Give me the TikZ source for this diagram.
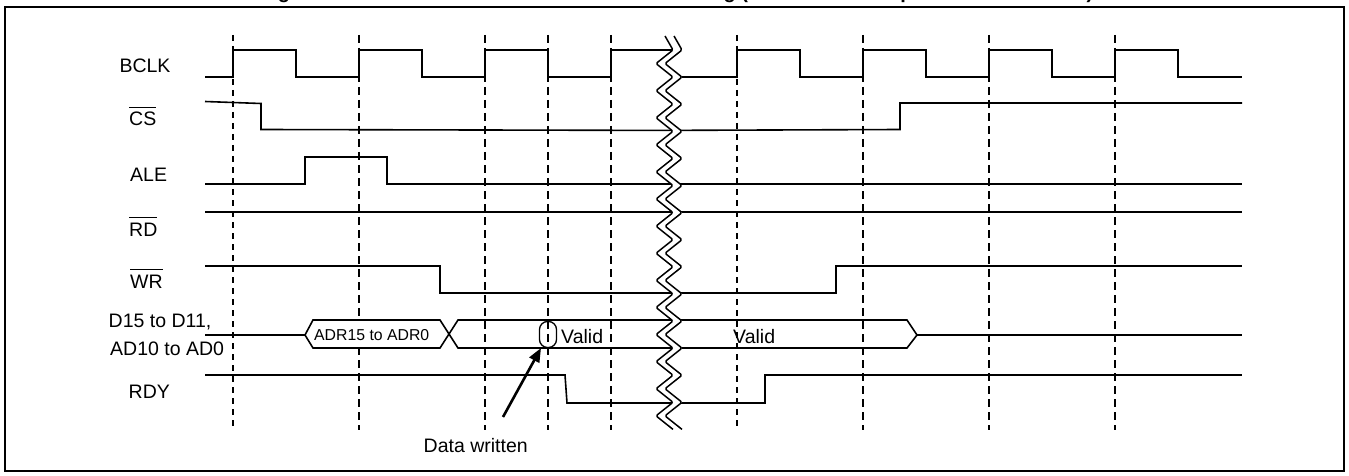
\documentclass[tikz,border=0pt]{standalone}
\usepackage{fontspec}
\setmainfont{Liberation Sans}
\usetikzlibrary{arrows.meta}
\newcommand{\ovl}[1]{\setbox0\hbox{#1}\rlap{\rule[\dimexpr\ht0+4.4pt\relax]{\wd0}{1.2pt}}#1}
\tikzset{
  lbl/.style={font=\fontsize{19.5}{23}\selectfont, inner sep=0pt, anchor=base west},
  smalllbl/.style={font=\fontsize{15.8}{19}\selectfont, inner sep=0pt, anchor=base west},
  sig/.style={line width=1.6pt, line join=miter},
  thingrid/.style={line width=1.1pt, dash pattern=on 6pt off 5pt},
  thickgrid/.style={line width=2.3pt, dash pattern=on 8pt off 5pt},
  zig/.style={line width=1.5pt, line join=round, rounded corners=1.5pt},
}
\begin{document}
\begin{tikzpicture}[x=1pt,y=-1pt]
\useasboundingbox (0,0) rectangle (1349,476);
% title (cut off at the top of the picture)
\node[font=\bfseries\fontsize{20}{24}\selectfont, inner sep=0pt, anchor=base west] (title) at (260,-1)
  {Figure 18. Address/Data Bus Write Access Timing (Clock Mode 1 Input at Word Access)};
% frame
\draw[line width=2pt] (5,7) rectangle (1343.5,470.5);

% grid lines
\foreach \gx in {233,737} \draw[thingrid] (\gx,35) -- (\gx,430);
\foreach \gx in {359,485,548,611,863,989,1115} \draw[thickgrid] (\gx,35) -- (\gx,430);

% labels
\node[lbl] (lbclk) at (119.3,72.3) {BCLK};
\node[lbl] (lcs) at (129,126) {\ovl{CS}};
\node[lbl] (lale) at (130,181) {ALE};
\node[lbl] (lrd) at (129,236) {\ovl{RD}};
\node[lbl] (lwr) at (130,288) {\ovl{WR}};
\node[lbl] (ld1) at (108.5,327) {D15 to D11,};
\node[lbl] (ld2) at (110,355) {AD10 to AD0};
\node[lbl] (lrdy) at (128.5,398) {RDY};

% left part of the signals (left of the break)
\begin{scope}
\clip (0,0) -- (665,0) -- (665,36)
  \foreach \k in {0,...,13} { -- (673,{50+27.1*\k}) -- (656,{63.55+27.1*\k}) }
  -- (673,429.4) -- (673,476) -- (0,476) -- cycle;
\draw[sig] (205,77) -- (233,77) -- (233,50) -- (296,50) -- (296,77) -- (359,77) -- (359,50)
  -- (422,50) -- (422,77) -- (485,77) -- (485,50) -- (548,50) -- (548,77) -- (611,77)
  -- (611,50) -- (700,50);
\draw[sig] (205,101.5) -- (261,103.5) -- (261,129.5) -- (700,130.5);
\draw[sig] (205,184) -- (305,184) -- (305,157) -- (387,157) -- (387,184) -- (700,184);
\draw[sig] (205,212) -- (700,212);
\draw[sig] (205,266) -- (440,266) -- (440,293) -- (700,293);
\draw[sig] (205,335) -- (305,335);
\filldraw[sig, fill=white] (305,335) -- (313,320) -- (440,320) -- (449,334) -- (440,348) -- (313,348) -- cycle;
\draw[sig] (449,334) -- (458,320) -- (700,320);
\draw[sig] (449,334) -- (458,348) -- (700,348);
\draw[sig] (205,375) -- (565,375) -- (567,403) -- (700,403);
\end{scope}

% right part of the signals (right of the break)
\begin{scope}
\clip (1349,0) -- (674,0) -- (674,36)
  \foreach \k in {0,...,13} { -- (682,{50+27.1*\k}) -- (665,{63.55+27.1*\k}) }
  -- (682,429.4) -- (682,476) -- (1349,476) -- cycle;
\draw[sig] (640,77) -- (737,77) -- (737,50) -- (800,50) -- (800,77) -- (863,77) -- (863,50)
  -- (926,50) -- (926,77) -- (989,77) -- (989,50) -- (1052,50) -- (1052,77) -- (1115,77)
  -- (1115,50) -- (1178,50) -- (1178,77) -- (1242,77);
\draw[sig] (640,130.5) -- (900,129.5) -- (900,103) -- (1242,103);
\draw[sig] (640,184) -- (1242,184);
\draw[sig] (640,212) -- (1242,212);
\draw[sig] (640,293) -- (836,293) -- (836,266) -- (1242,266);
\draw[sig] (640,320) -- (907,320) -- (917,335) -- (907,348) -- (640,348);
\draw[sig] (917,335) -- (1242,335);
\draw[sig] (640,403) -- (765,403) -- (765,375) -- (1242,375);
\end{scope}

% break marks
\draw[zig] (665,36) \foreach \k in {0,...,13} { -- (673,{50+27.1*\k}) -- (656,{63.55+27.1*\k}) } -- (673,429.4);
\draw[zig] (674,36) \foreach \k in {0,...,13} { -- (682,{50+27.1*\k}) -- (665,{63.55+27.1*\k}) } -- (682,429.4);

% bus texts
\node[smalllbl] (adr) at (314,340) {ADR15 to ADR0};
\node[lbl] (valid1) at (561,343) {Valid};
\node[lbl] (valid2) at (733,343) {Valid};

% data written marker
\node[draw, line width=1.3pt, rounded corners=8pt, minimum width=17pt, minimum height=26pt, inner sep=0pt] (cap) at (548,334.5) {};
\node[lbl] (dw) at (423.5,452) {Data written};
\coordinate (arrS) at (503,417);
\coordinate (arrE) at (541,348);
\draw[line width=2.6pt, -{Triangle[length=14pt,width=11pt]}] (arrS) -- (arrE);
\end{tikzpicture}
\end{document}
